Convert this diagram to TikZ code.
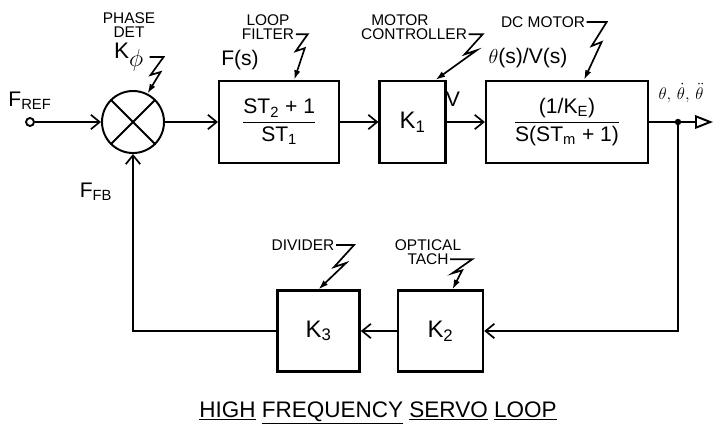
\documentclass[tikz,border=0pt]{standalone}
\usepackage{fontspec}
\setmainfont{Liberation Sans}
\usetikzlibrary{positioning, arrows.meta, calc}

\begin{document}
\begin{tikzpicture}[
        x=0.025cm, y=-0.025cm,
        blk/.style={
            draw, line width=1.7pt,
            minimum height=2.05cm,
            align=center, inner sep=2pt,
            font=\fontsize{15}{17}\selectfont
        },
        kblk/.style={blk, font=\fontsize{17}{19}\selectfont},
        sumj/.style={circle, draw, line width=1.4pt, minimum size=1.55cm, inner sep=0pt},
        port/.style={circle, draw, line width=1.3pt, minimum size=0.2cm, inner sep=0pt},
        tapdot/.style={circle, fill, minimum size=0.16cm, inner sep=0pt},
        sig/.style={line width=1.4pt, -{Straight Barb[length=2.2mm, width=3.6mm, line width=1.2pt]}},
        zap/.style={line width=1.2pt, -{Latex[length=2.4mm, width=1.6mm]}},
        lbl/.style={font=\fontsize{11}{12.5}\selectfont, inner sep=1pt},
        big/.style={font=\fontsize{15}{17}\selectfont, inner sep=1pt}
    ]
    \useasboundingbox (0,0) rectangle (716,429);

    % Phase detector
    \node[sumj] (sum) at (133,122) {};
    \draw[line width=1.4pt] (sum.north west) -- (sum.south east)
                            (sum.north east) -- (sum.south west);

    % Loop filter
    \node[blk, minimum width=3cm, right=1.325cm of sum] (filt)
        {$\displaystyle\frac{\mbox{ST\textsubscript{2} + 1}}{\mbox{ST\textsubscript{1}}}$};

    % Motor controller
    \node[kblk, minimum width=1.65cm, right=0.95cm of filt] (k1)
        {K\textsubscript{1}};

    % DC motor
    \node[blk, minimum width=4.05cm, right=0.95cm of k1] (motor)
        {$\displaystyle\frac{\mbox{(1/K\textsubscript{E})}}{\mbox{S(ST\textsubscript{m} + 1)}}$};

    % Optical tach
    \node[kblk, minimum width=2.125cm, minimum height=2.025cm] (k2) at (440.5,331)
        {K\textsubscript{2}};

    % Divider
    \node[kblk, minimum width=2.05cm, minimum height=2.025cm, left=0.9cm of k2] (k3)
        {K\textsubscript{3}};

    % input and output
    \node[port] (fref) at (30,122) {};
    \node[tapdot] (tap) at (678,122) {};
    \coordinate (out) at (713,122);

    % labels
    \node[big] at (30,101) {F\textsubscript{REF}};
    \node[big] at (96,192) {F\textsubscript{FB}};
    \node[lbl] (phase) at (129,18) {PHASE};
    \node[lbl, below=0pt of phase] (det) {DET};
    \node[big, font=\fontsize{16}{18}\selectfont] (kphi) at (129,57) {K$_{\textstyle\phi}$};
    \node[lbl] (loop) at (268,20) {LOOP};
    \node[lbl, below=0pt of loop] (filter) {FILTER};
    \node[big] at (240,60) {F(s)};
    \node[lbl] (mot) at (400,20) {MOTOR};
    \node[lbl, below=0pt of mot, xshift=10pt] (ctrl) {CONTROLLER};
    \node[big] at (453,99) {V};
    \node[lbl] (dcm) at (543,22) {DC MOTOR};
    \node[big] at (528,58) {$\theta$(s)/V(s)};
    \node[big, font=\fontsize{13}{15}\selectfont] at (681,93) {$\theta,\,\dot\theta,\,\ddot\theta$};
    \node[lbl] (divider) at (303,245) {DIVIDER};
    \node[lbl] (optical) at (428,245) {OPTICAL};
    \node[lbl, below=0pt of optical] (tach) {TACH};

    % forward path
    \draw[sig] (fref) -- (sum);
    \draw[sig] (sum) -- (filt);
    \draw[sig] (filt) -- (k1);
    \draw[sig] (k1) -- (motor);
    \draw[line width=1.4pt] (motor) -- (tap);
    \draw[line width=1.4pt, -{Triangle[open, length=4.5mm, width=3.4mm]}] (tap) -- (out);

    % feedback path
    \draw[sig] (tap) |- (k2);
    \draw[sig] (k2) -- (k3);
    \draw[sig] (k3) -| (sum);

    % pointers
    \draw[zap] (kphi.east) ++(4,0) -- ++(14,0) -- ++(-13,18) -- ++(10,-3) -- (sum.63);
    \draw[zap] (filter.east) -- ++(12,0) -- ++(-12,17) -- ++(9,-3) -- ($(filt.north)+(15,0)$);
    \draw[zap] (ctrl.east) -- ++(14,0) -- ++(-18,20) -- ++(12,-4) -- ($(k1.north)+(23,0)$);
    \draw[zap] (dcm.east) -- ++(20,0) -- ++(-15,24) -- ++(10,-4) -- ($(motor.north)+(17,0)$);
    \draw[zap] (divider.east) -- ++(18,0) -- ++(-20,22) -- ++(12,-4) -- (k3.north);
    \draw[zap] (tach.east) -- ++(22,0) -- ++(-20,14) -- ++(10,-3) -- ($(k2.north)+(12,0)$);

    % title
    \node[font=\fontsize{16}{18}\selectfont] (title) at (378,413)
        {\underline{HIGH} \underline{FREQUENCY} \underline{SERVO} \underline{LOOP}};

\end{tikzpicture}
\end{document}
